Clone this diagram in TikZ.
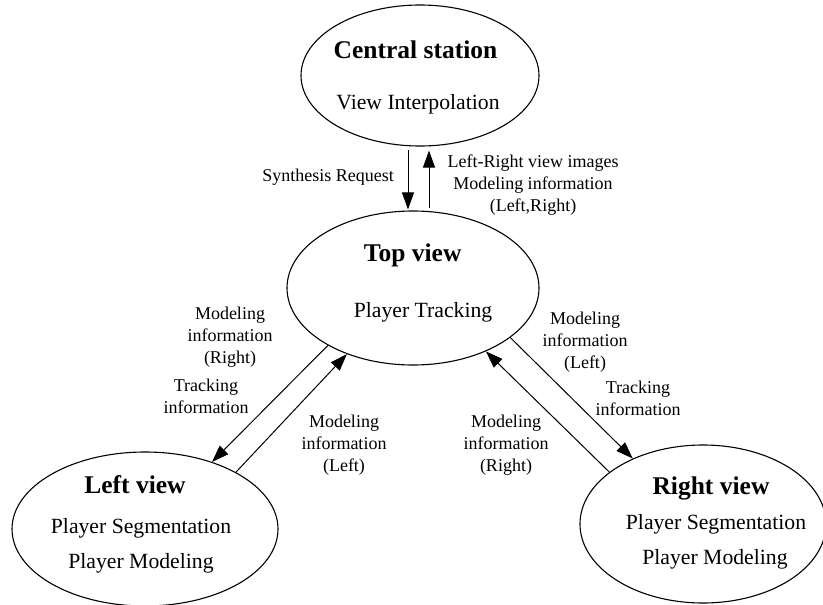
\documentclass[tikz,border=0pt]{standalone}
\usepackage{fontspec}
\setmainfont{Liberation Serif}
\usetikzlibrary{shapes.geometric,arrows.meta,calc}
\tikzset{
  oval/.style={draw, ellipse, inner sep=0pt, line width=1.1pt},
  ttl/.style={font=\fontsize{25.5}{30}\selectfont\bfseries, anchor=base, inner sep=0pt},
  bdy/.style={font=\fontsize{21.7}{26}\selectfont, anchor=base, inner sep=0pt},
  lbl/.style={font=\fontsize{18}{21.7}\selectfont, align=center, inner sep=0pt},
  arr/.style={-{Triangle[length=17pt,width=12pt]}, line width=1pt},
}
\begin{document}
\begin{tikzpicture}[x=1pt,y=-1pt]
\useasboundingbox (0,0) rectangle (823,605);
% ellipses
\node[oval, minimum width=238pt, minimum height=141pt] (cs) at (420,75.5) {};
\node[oval, minimum width=252pt, minimum height=154pt] (tv) at (413,288) {};
\node[oval, minimum width=266pt, minimum height=154pt] (lv) at (145,529) {};
\node[oval, minimum width=246pt, minimum height=158pt] (rv) at (703,524) {};
% texts in ellipses
\node[ttl] (cst) at (415.5,58) {Central station};
\node[bdy] (csb) at (418,109) {View Interpolation};
\node[ttl] (tvt) at (412.7,261) {Top view};
\node[bdy] (tvb) at (423,317) {Player Tracking};
\node[ttl] (lvt) at (135,493) {Left view};
\node[bdy] (lvb1) at (141,533) {Player Segmentation};
\node[bdy] (lvb2) at (141,568) {Player Modeling};
\node[ttl] (rvt) at (711,494) {Right view};
\node[bdy] (rvb1) at (716,529) {Player Segmentation};
\node[bdy] (rvb2) at (715,564) {Player Modeling};
% connectors
\draw[arr] ($(cs.south)+(-12,3.5)$) -- ($(tv.north)+(-5,-1)$);
\draw[arr] ($(tv.north)+(16,-2)$) -- ($(cs.south)+(9,4)$);
\draw[arr] (tv.214.5) -- (lv.45.9);
\draw[arr] (lv.32.7) -- (tv.225.9);
\draw[arr] (tv.333.2) -- (rv.137.1);
\draw[arr] (rv.151.8) -- (tv.319);
% labels
\node[lbl] (l1) at (328,177) {Synthesis Request};
\node[lbl] (l2) at (533,185) {Left-Right view images\\Modeling information\\(Left,Right)};
\node[lbl] (l3) at (230,337) {Modeling\\information\\(Right)};
\node[lbl] (l4) at (206,396) {Tracking\\information};
\node[lbl] (l5) at (344,445) {Modeling\\information\\(Left)};
\node[lbl] (l6) at (585,342) {Modeling\\information\\(Left)};
\node[lbl] (l7) at (638,398) {Tracking\\information};
\node[lbl] (l8) at (506,445) {Modeling\\information\\(Right)};
\end{tikzpicture}
\end{document}
